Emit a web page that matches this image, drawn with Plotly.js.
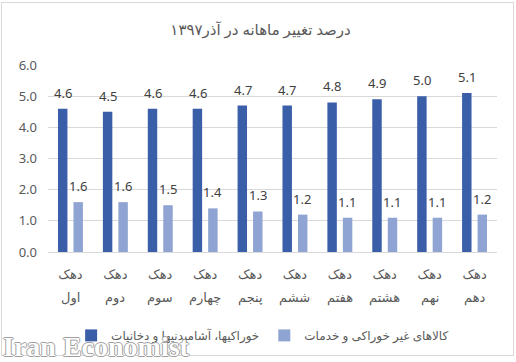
<!DOCTYPE html>
<html>
<head>
<meta charset="utf-8">
<script src="https://cdn.plot.ly/plotly-3.0.1.min.js"></script>
<style>
html,body{margin:0;padding:0;background:#fff;}
#frame{position:absolute;left:1px;top:2px;width:513px;height:354px;border:1px solid #d9d9d9;box-sizing:border-box;}
#chart{position:absolute;left:0;top:0;width:516px;height:362px;}
</style>
</head>
<body>
<div id="frame"></div>
<div id="chart"></div>
<script>
const titleText = "درصد تغییر ماهانه در آذر۱۳۹۷";
const categories = ["دهک اول","دهک دوم","دهک سوم","دهک چهارم","دهک پنجم","دهک ششم","دهک هفتم","دهک هشتم","دهک نهم","دهک دهم"];
const seriesNames = ["خوراکیها، آشامیدنیها و دخانیات","کالاهای غیر خوراکی و خدمات"];
const foodValues = [4.6,4.5,4.6,4.6,4.7,4.7,4.8,4.9,5.0,5.1];
const nonFoodValues = [1.6,1.6,1.5,1.4,1.3,1.2,1.1,1.1,1.1,1.2];
const watermark = "Iran Economist";

const fontFam = "Noto Sans, DejaVu Sans, sans-serif";
const gray = "#595959";
const firstWords = categories.map(c => c.split(" ")[0]);
const secondWords = categories.map(c => c.split(" ").slice(1).join(" "));

const traces = [
  {type:"bar", name:seriesNames[0], x:categories, y:foodValues, marker:{color:"#3b5ea9"}, hoverinfo:"none"},
  {type:"bar", name:seriesNames[1], x:categories, y:nonFoodValues, marker:{color:"#8fa4d3"}, hoverinfo:"none"}
];

const annotations = [];
[foodValues, nonFoodValues].forEach((vals, si) => {
  vals.forEach((v, i) => {
    annotations.push({
      x: categories[i], y: v, xref:"x", yref:"y",
      text: v.toFixed(1), showarrow:false,
      xshift: si === 0 ? -7.5 : 7.5, yshift: 16, yanchor:"middle",
      font:{family:fontFam, size:13, color:"#404040"}
    });
  });
});
// second line of each category label
secondWords.forEach((w, i) => {
  annotations.push({
    x: categories[i], y: 0, xref:"x", yref:"y",
    text: w, showarrow:false, yanchor:"middle", yshift:-45,
    font:{family:fontFam, size:13, color:gray}
  });
});
annotations.push({
  text: watermark, xref:"paper", yref:"paper", x:-0.105, y:-0.508,
  xanchor:"left", yanchor:"middle", showarrow:false,
  font:{family:"Liberation Serif, serif", size:28, weight:"bold", color:"#ffffff",
        shadow:"-1px 0 #a0a0a0, 1px 0 #a0a0a0, 0 -1px #a0a0a0, 0 1px #a0a0a0"}
});

const layout = {
  width:516, height:362,
  margin:{l:48, r:19, t:65, b:110},
  paper_bgcolor:"rgba(0,0,0,0)", plot_bgcolor:"rgba(0,0,0,0)",
  title:{text:titleText, x:0.505, xanchor:"center", y:0.917, yanchor:"middle",
         font:{family:fontFam, size:15, color:gray}},
  barmode:"group", bargap:0.31, bargroupgap:0.39,
  showlegend:true,
  legend:{orientation:"h", x:0.478, xanchor:"center", y:-0.446, yanchor:"middle",
          font:{family:fontFam, size:12, color:gray}, itemwidth:30},
  xaxis:{type:"category", tickvals:categories, ticktext:firstWords, showgrid:false,
         showline:false, ticks:"", ticklabelstandoff:13,
         tickfont:{family:fontFam, size:13, color:gray}, fixedrange:true},
  yaxis:{range:[0,6], dtick:1, tickformat:".1f", showgrid:true, gridcolor:"#d9d9d9",
         gridwidth:1, zeroline:true, zerolinecolor:"#d9d9d9", zerolinewidth:1,
         showline:false, ticks:"", ticklabelstandoff:10,
         tickfont:{family:fontFam, size:13, color:gray}, fixedrange:true},
  annotations:annotations
};

Plotly.newPlot("chart", traces, layout, {staticPlot:true, displayModeBar:false});
</script>
</body>
</html>
